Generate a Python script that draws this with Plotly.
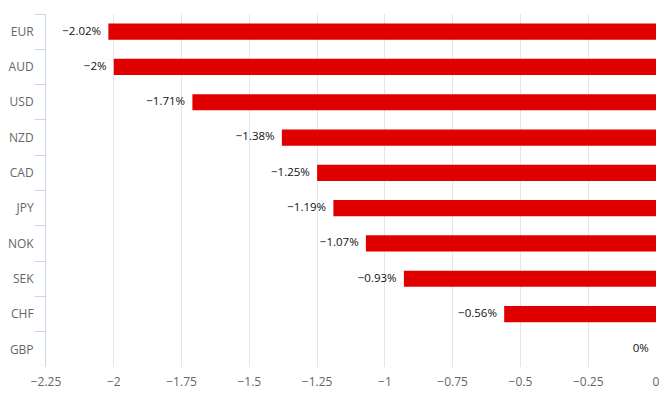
import plotly.graph_objects as go

currencies = ["EUR", "AUD", "USD", "NZD", "CAD", "JPY", "NOK", "SEK", "CHF", "GBP"]
changes = [-2.02, -2.0, -1.71, -1.38, -1.25, -1.19, -1.07, -0.93, -0.56, 0.0]
x_ticks = [-2.25, -2, -1.75, -1.5, -1.25, -1, -0.75, -0.5, -0.25, 0]


def fmt(v):
    s = ("%g" % abs(v)) + "%"
    return ("\u2212" + s) if v < 0 else s


labels = [fmt(v) for v in changes]
tick_text = [("\u2212" + "%g" % abs(t)) if t < 0 else "%g" % t for t in x_ticks]

fig = go.Figure()
fig.add_trace(go.Bar(
    y=currencies, x=changes, orientation="h",
    marker=dict(color="#e00000", line=dict(width=0)),
    hoverinfo="skip",
))
fig.add_trace(go.Scatter(
    y=currencies, x=changes, mode="markers+text",
    marker=dict(size=10, color="rgba(0,0,0,0)"),
    text=labels, textposition="middle left", cliponaxis=False,
    textfont=dict(family="Open Sans, sans-serif", size=11.5, color="#111111"),
    hoverinfo="skip",
))

fig.update_layout(
    width=670, height=398,
    margin=dict(l=46, r=14, t=14, b=31, autoexpand=False),
    paper_bgcolor="white", plot_bgcolor="white",
    bargap=0.54,
    showlegend=False,
    font=dict(family="Open Sans, sans-serif", size=12, color="#666666"),
    xaxis=dict(
        range=[-2.25, 0], tickmode="array", tickvals=x_ticks, ticktext=tick_text,
        showgrid=True, gridcolor="#e6e6e6", gridwidth=1,
        zeroline=False, showline=False,
        ticks="outside", ticklen=4, tickcolor="rgba(0,0,0,0)",
        tickfont=dict(size=12, color="#666666"),
        automargin=False,
    ),
    yaxis=dict(
        categoryorder="array", categoryarray=currencies,
        range=[len(currencies) - 0.5, -0.5],
        showgrid=False, zeroline=False,
        showline=True, linecolor="#ccd6eb", linewidth=1,
        ticks="outside", tickson="boundaries", ticklen=10, tickcolor="#ccd6eb",
        tickfont=dict(size=12, color="#666666"),
        ticklabelstandoff=9, automargin=False,
    ),
)

fig.write_html("out.html", config={"displayModeBar": False},
               post_script="document.body.style.margin='0';")
